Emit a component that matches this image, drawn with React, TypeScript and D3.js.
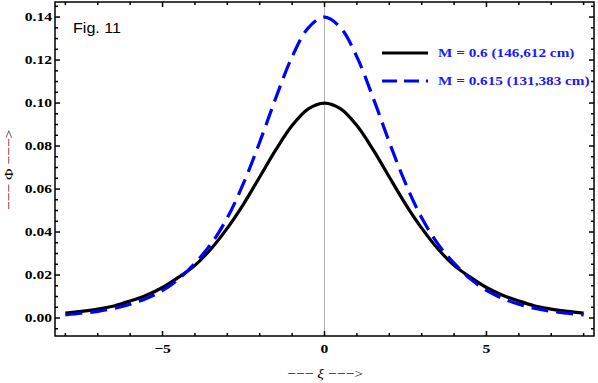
import React, { useEffect, useRef } from "react";
import * as d3 from "d3";

// xi sample points
const xi = [
  -8, -7.5, -7, -6.5, -6, -5.5, -5, -4.5, -4, -3.5, -3, -2.5, -2, -1.5, -1, -0.5,
  0, 0.5, 1, 1.5, 2, 2.5, 3, 3.5, 4, 4.5, 5, 5.5, 6, 6.5, 7, 7.5, 8,
];

// M = 0.6 (solid black)
const phiM06 = [
  0.0023, 0.0031, 0.0041, 0.0056, 0.0079, 0.0106, 0.0142, 0.019, 0.0245, 0.0322,
  0.0418, 0.053, 0.0656, 0.0783, 0.0895, 0.0973, 0.1, 0.0973, 0.0895, 0.0783,
  0.0656, 0.053, 0.0418, 0.0322, 0.0245, 0.019, 0.0142, 0.0106, 0.0079, 0.0056,
  0.0041, 0.0031, 0.0023,
];

// M = 0.615 (dashed blue)
const phiM0615 = [
  0.0015, 0.0022, 0.0031, 0.0045, 0.0064, 0.0091, 0.0128, 0.0182, 0.0255, 0.0345,
  0.0466, 0.0627, 0.0818, 0.1025, 0.1215, 0.135, 0.14, 0.135, 0.1215, 0.1025,
  0.0818, 0.0627, 0.0466, 0.0345, 0.0255, 0.0182, 0.0128, 0.0091, 0.0064, 0.0045,
  0.0031, 0.0022, 0.0015,
];

const xTicks = [-5, 0, 5];
const yTicks = [0, 0.02, 0.04, 0.06, 0.08, 0.1, 0.12, 0.14];
const legendLabels = ["M = 0.6 (146,612 cm)", "M = 0.615 (131,383 cm)"];

const App = () => {
  const svgRef = useRef<SVGSVGElement>(null);

  useEffect(() => {
    const svg = d3.select(svgRef.current);
    svg.selectAll("*").remove();

    const left = 55, right = 594, top = 2, bottom = 336;
    const serif = "'Liberation Serif', 'Times New Roman', serif";
    const stretch = 1.2; // the original figure is a bit wider than tall

    const x = d3.scaleLinear().domain([-8.32, 8.32]).range([left, right]);
    const y = d3.scaleLinear().domain([-0.00837, 0.147]).range([bottom, top]);

    // text helper, stretched horizontally like the source
    const label = (px: number, py: number, anchor: string, size: number, bold = true, rot = 0) =>
      svg.append("text")
        .attr("transform", `translate(${px},${py}) rotate(${rot}) scale(${stretch},1)`)
        .attr("text-anchor", anchor)
        .attr("font-family", serif)
        .attr("font-weight", bold ? "bold" : "normal")
        .attr("font-size", size);

    // vertical line at xi = 0
    svg.append("line")
      .attr("x1", x(0)).attr("x2", x(0))
      .attr("y1", top).attr("y2", bottom)
      .attr("stroke", "#b4b4b4").attr("stroke-width", 1);

    const line = d3.line<number>()
      .x((d, i) => x(xi[i]))
      .y((d) => y(d))
      .curve(d3.curveCatmullRom.alpha(0.5));

    svg.append("path")
      .datum(phiM06)
      .attr("fill", "none")
      .attr("stroke", "#000")
      .attr("stroke-width", 3.2)
      .attr("d", line);

    svg.append("path")
      .datum(phiM0615)
      .attr("fill", "none")
      .attr("stroke", "#0000ff")
      .attr("stroke-width", 3.2)
      .attr("stroke-dasharray", "17,8")
      .attr("d", line);

    // frame
    svg.append("rect")
      .attr("x", left).attr("y", top)
      .attr("width", right - left).attr("height", bottom - top)
      .attr("fill", "none").attr("stroke", "#000").attr("stroke-width", 1.5);

    // ticks on all four sides
    const xMinor = d3.range(-8, 9, 1);
    const yMinor = d3.range(-0.005, 0.1451, 0.005);
    const isMajorX = (v: number) => xTicks.includes(v);
    const isMajorY = (v: number) => yTicks.some((t) => Math.abs(t - v) < 1e-9);

    xMinor.forEach((v) => {
      const len = isMajorX(v) ? 5 : 3;
      svg.append("line").attr("x1", x(v)).attr("x2", x(v))
        .attr("y1", bottom).attr("y2", bottom - len)
        .attr("stroke", "#000").attr("stroke-width", 1.5);
      svg.append("line").attr("x1", x(v)).attr("x2", x(v))
        .attr("y1", top).attr("y2", top + len)
        .attr("stroke", "#000").attr("stroke-width", 1.5);
    });
    yMinor.forEach((v) => {
      const len = isMajorY(v) ? 5 : 3;
      svg.append("line").attr("x1", left).attr("x2", left + len)
        .attr("y1", y(v)).attr("y2", y(v))
        .attr("stroke", "#000").attr("stroke-width", 1.5);
      svg.append("line").attr("x1", right).attr("x2", right - len)
        .attr("y1", y(v)).attr("y2", y(v))
        .attr("stroke", "#000").attr("stroke-width", 1.5);
    });

    // tick labels
    xTicks.forEach((d) => {
      label(x(d), 353, "middle", 13).text(d3.format("d")(d));
    });
    yTicks.forEach((d) => {
      label(52, y(d) + 4.3, "end", 13).text(d3.format(".2f")(d));
    });

    // axis labels
    const xl = label(325, 378, "middle", 13, false);
    xl.append("tspan").text("\u2212\u2212\u2212 ");
    xl.append("tspan").attr("font-style", "italic").text("ξ");
    xl.append("tspan").text(" \u2212\u2212\u2212>");

    const yl = label(13, 170, "middle", 13, false, -90);
    yl.append("tspan").text("\u2212\u2212\u2212 ");
    yl.append("tspan").text("Φ");
    yl.append("tspan").text(" \u2212\u2212\u2212>");

    // figure tag
    svg.append("text")
      .attr("transform", `translate(73,33) scale(1.15,1)`)
      .attr("font-family", "'Liberation Sans', Arial, sans-serif")
      .attr("font-size", 14)
      .text("Fig. 11");

    // legend
    const legY = [53, 81];
    legendLabels.forEach((txt, i) => {
      svg.append("line")
        .attr("x1", 382).attr("x2", 428)
        .attr("y1", legY[i]).attr("y2", legY[i])
        .attr("stroke", i === 0 ? "#000" : "#0000ff")
        .attr("stroke-width", 3.2)
        .attr("stroke-dasharray", i === 0 ? null : "15,7");
      label(438, legY[i] + 4.3, "start", 12.7)
        .attr("fill", "#1a1aff")
        .text(txt);
    });
  }, []);

  return (
    <svg
      ref={svgRef}
      width={598}
      height={383}
      style={{ position: "absolute", left: 0, top: 0, background: "#fff" }}
    ></svg>
  );
};

export default App;
